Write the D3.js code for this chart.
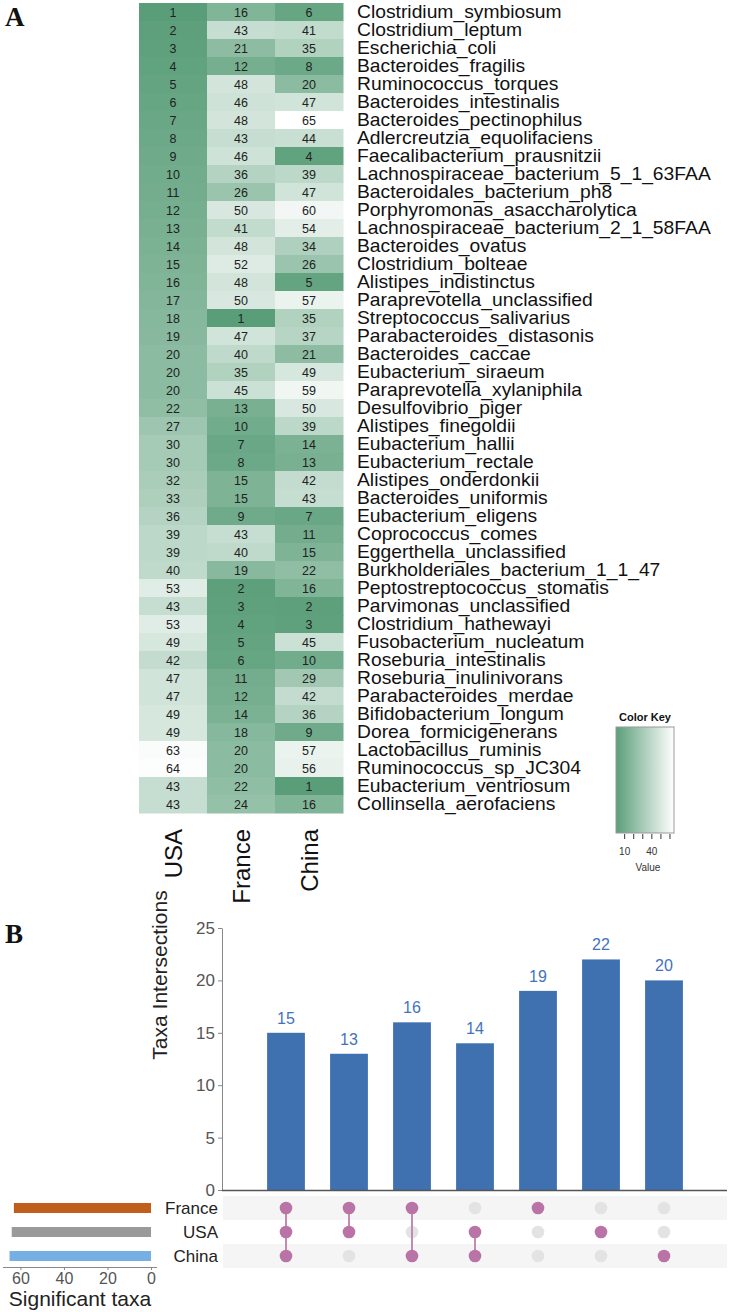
<!DOCTYPE html>
<html><head><meta charset="utf-8">
<script src="https://cdn.jsdelivr.net/npm/d3@7"></script>
<style>
body{margin:0;background:#fff;}
svg{display:block;font-family:Arial,"Liberation Sans",sans-serif;}
</style></head>
<body>
<svg id="c" width="729" height="1312"></svg>
<script>
// ---------- DATA ----------
const taxa = ["Clostridium_symbiosum","Clostridium_leptum","Escherichia_coli","Bacteroides_fragilis","Ruminococcus_torques","Bacteroides_intestinalis","Bacteroides_pectinophilus","Adlercreutzia_equolifaciens","Faecalibacterium_prausnitzii","Lachnospiraceae_bacterium_5_1_63FAA","Bacteroidales_bacterium_ph8","Porphyromonas_asaccharolytica","Lachnospiraceae_bacterium_2_1_58FAA","Bacteroides_ovatus","Clostridium_bolteae","Alistipes_indistinctus","Paraprevotella_unclassified","Streptococcus_salivarius","Parabacteroides_distasonis","Bacteroides_caccae","Eubacterium_siraeum","Paraprevotella_xylaniphila","Desulfovibrio_piger","Alistipes_finegoldii","Eubacterium_hallii","Eubacterium_rectale","Alistipes_onderdonkii","Bacteroides_uniformis","Eubacterium_eligens","Coprococcus_comes","Eggerthella_unclassified","Burkholderiales_bacterium_1_1_47","Peptostreptococcus_stomatis","Parvimonas_unclassified","Clostridium_hathewayi","Fusobacterium_nucleatum","Roseburia_intestinalis","Roseburia_inulinivorans","Parabacteroides_merdae","Bifidobacterium_longum","Dorea_formicigenerans","Lactobacillus_ruminis","Ruminococcus_sp_JC304","Eubacterium_ventriosum","Collinsella_aerofaciens"];
const countries = ["USA","France","China"];
const usaRank = [1,2,3,4,5,6,7,8,9,10,11,12,13,14,15,16,17,18,19,20,20,20,22,27,30,30,32,33,36,39,39,40,53,43,53,49,42,47,47,49,49,63,64,43,43];
const franceRank = [16,43,21,12,48,46,48,43,46,36,26,50,41,48,52,48,50,1,47,40,35,45,13,10,7,8,15,15,9,43,40,19,2,3,4,5,6,11,12,14,18,20,20,22,24];
const chinaRank = [6,41,35,8,20,47,65,44,4,39,47,60,54,34,26,5,57,35,37,21,49,59,50,39,14,13,42,43,7,11,15,22,16,2,3,45,10,29,42,36,9,57,56,1,16];
const keyTicks = [10,20,30,40,50,60];
const keyTickLabels = [10,40];

const setNames = ["France","USA","China"];
const setSizes = [63,64,65];
const setColors = ["#c05f1b","#9a9a9a","#74b0e4"];
const interMembers = [["France","USA","China"],["France","USA"],["France","China"],["USA","China"],["France"],["USA"],["China"]];
const interCounts = [15,13,16,14,19,22,20];
const yTicks = [0,5,10,15,20,25];
const sizeTicks = [0,20,40,60];

const svg = d3.select("#c");

// ---------- PANEL A ----------
svg.append("text").attr("x",5).attr("y",26).text("A")
  .attr("font-family","'Liberation Serif','DejaVu Serif',serif").attr("font-weight","bold").attr("font-size",27).attr("fill","#111");

const rankCols = [usaRank, franceRank, chinaRank];
const cells = [];
taxa.forEach((t,i)=>countries.forEach((c,j)=>cells.push({t,c,v:rankCols[j][i]})));

const hx = d3.scaleBand().domain(countries).range([139,343]);
const hy = d3.scaleBand().domain(taxa).range([3,813]);
const color = d3.scaleLinear().domain([1,65]).range(["#5a9e79","#ffffff"]).interpolate(d3.interpolateRgb);

const hm = svg.append("g");
hm.selectAll("rect").data(cells).join("rect")
  .attr("x",d=>hx(d.c)).attr("y",d=>hy(d.t))
  .attr("width",hx.bandwidth()+0.5).attr("height",hy.bandwidth()+0.5)
  .attr("fill",d=>color(d.v));
hm.selectAll("text.v").data(cells).join("text").attr("class","v")
  .attr("x",d=>hx(d.c)+hx.bandwidth()/2).attr("y",d=>hy(d.t)+hy.bandwidth()/2)
  .attr("dy","0.36em").attr("text-anchor","middle").attr("font-size",12.5).attr("fill","#222")
  .text(d=>d.v);
const lab = hm.append("g");
lab.selectAll("text.t").data(taxa).join("text").attr("class","t")
  .attr("x",0).attr("y",d=>hy(d)+hy.bandwidth()/2).attr("dy","0.36em")
  .attr("font-size",17.5).attr("fill","#111").text(d=>d);
// stretch labels horizontally to reference width of the longest label
let maxW = 0; lab.selectAll("text.t").each(function(){maxW=Math.max(maxW,this.getComputedTextLength());});
const sxl = maxW>0 ? 354/maxW : 1;
lab.attr("transform",`translate(357,0) scale(${sxl},1)`);

hm.selectAll("text.c").data(countries).join("text").attr("class","c")
  .attr("transform",d=>`translate(${hx(d)+hx.bandwidth()/2+8.5},829) rotate(-90)`)
  .attr("text-anchor","end").attr("font-size",24).attr("fill","#111").text(d=>d);

// Color key
const key = svg.append("g");
const kx = d3.scaleLinear().domain([1,65]).range([616,674]);
const grad = svg.append("defs").append("linearGradient").attr("id","kg");
d3.range(0,1.0001,0.1).forEach(o=>grad.append("stop").attr("offset",o).attr("stop-color",color(1+64*o)));
key.append("text").attr("x",645).attr("y",721).attr("text-anchor","middle").attr("font-size",11).attr("font-weight","bold").attr("fill","#111").text("Color Key");
key.append("rect").attr("x",616).attr("y",727).attr("width",58).attr("height",106).attr("fill","url(#kg)").attr("stroke","#999").attr("stroke-width",1);
const kAxis = d3.axisBottom(kx).tickValues(keyTicks).tickSize(5).tickFormat(d=>keyTickLabels.includes(d)?d:"");
const kg = key.append("g").attr("transform","translate(0,834)").call(kAxis);
kg.select(".domain").remove();
kg.selectAll("line").attr("stroke","#333");
kg.selectAll("text").attr("font-size",10).attr("fill","#333").attr("dy","1.3em").attr("font-family","Arial,'Liberation Sans',sans-serif");
key.append("text").attr("x",648).attr("y",871).attr("text-anchor","middle").attr("font-size",10).attr("fill","#333").text("Value");

// ---------- PANEL B ----------
svg.append("text").attr("x",5).attr("y",943).text("B")
  .attr("font-family","'Liberation Serif','DejaVu Serif',serif").attr("font-weight","bold").attr("font-size",27).attr("fill","#111");

const bx = d3.scaleBand().domain(d3.range(interCounts.length)).range([254.5,695.5]).paddingInner(0.4).paddingOuter(0.2);
const by = d3.scaleLinear().domain([0,25]).range([1190,928]);

const bars = svg.append("g");
bars.selectAll("rect").data(interCounts).join("rect")
  .attr("x",(d,i)=>bx(i)).attr("width",bx.bandwidth())
  .attr("y",d=>by(d)).attr("height",d=>by(0)-by(d)).attr("fill","#3f70b0");
bars.selectAll("text").data(interCounts).join("text")
  .attr("x",(d,i)=>bx(i)+bx.bandwidth()/2).attr("y",d=>by(d)-9)
  .attr("text-anchor","middle").attr("font-size",16).attr("fill","#4273bb").text(d=>d);

const yAx = svg.append("g").attr("transform","translate(222,0)")
  .call(d3.axisLeft(by).tickValues(yTicks).tickSize(4).tickSizeOuter(0));
yAx.select(".domain").attr("stroke","#888");
yAx.selectAll(".tick line").attr("stroke","#888");
yAx.selectAll("text").attr("font-size",17).attr("fill","#555").attr("font-family","Arial,'Liberation Sans',sans-serif");
svg.append("line").attr("x1",222).attr("x2",727).attr("y1",1190.5).attr("y2",1190.5).attr("stroke","#555").attr("stroke-width",1.5);
svg.append("text").attr("transform","translate(167,975) rotate(-90)").attr("text-anchor","middle")
  .attr("font-size",21).attr("fill","#222").text("Taxa Intersections");

// Matrix
const my = d3.scaleBand().domain(setNames).range([1196,1268]);
const mat = svg.append("g");
mat.selectAll("rect.bg").data(setNames).join("rect").attr("class","bg")
  .attr("x",223).attr("width",504).attr("y",d=>my(d)).attr("height",my.bandwidth())
  .attr("fill",(d,i)=>i%2===0?"#f5f5f5":"#ffffff");
mat.selectAll("text.sn").data(setNames).join("text").attr("class","sn")
  .attr("x",218).attr("y",d=>my(d)+my.bandwidth()/2).attr("dy","0.36em").attr("text-anchor","end")
  .attr("font-size",17).attr("fill","#222").text(d=>d);
const dots = [];
interMembers.forEach((m,i)=>setNames.forEach(s=>dots.push({i,s,on:m.includes(s)})));
mat.selectAll("circle").data(dots).join("circle")
  .attr("cx",d=>bx(d.i)+bx.bandwidth()/2).attr("cy",d=>my(d.s)+my.bandwidth()/2).attr("r",6.3)
  .attr("fill",d=>d.on?"#b973a6":"#e3e3e3");
mat.selectAll("line.cn").data(interMembers.map((m,i)=>({i,m})).filter(d=>d.m.length>1)).join("line").attr("class","cn")
  .attr("x1",d=>bx(d.i)+bx.bandwidth()/2).attr("x2",d=>bx(d.i)+bx.bandwidth()/2)
  .attr("y1",d=>d3.min(d.m,s=>my(s)+my.bandwidth()/2)).attr("y2",d=>d3.max(d.m,s=>my(s)+my.bandwidth()/2))
  .attr("stroke","#c48ab4").attr("stroke-width",2);
mat.selectAll("circle").filter(d=>d.on).raise();

// Set size bars
const sx = d3.scaleLinear().domain([0,68]).range([151,3]);
const sz = svg.append("g");
sz.selectAll("rect").data(setNames).join("rect")
  .attr("x",(d,i)=>sx(setSizes[i])).attr("width",(d,i)=>sx(0)-sx(setSizes[i]))
  .attr("y",d=>my(d)+my.bandwidth()/2-5).attr("height",10)
  .attr("fill",(d,i)=>setColors[i]);
const sAx = svg.append("g").attr("transform","translate(0,1267)")
  .call(d3.axisBottom(sx).tickValues(sizeTicks).tickSize(3).tickSizeOuter(0));
sAx.select(".domain").attr("stroke","#888").attr("d","M3,0.5H157");
sAx.selectAll(".tick line").attr("stroke","#888");
sAx.selectAll("text").attr("font-size",16).attr("fill","#555").attr("y",6).attr("dy","0.71em").attr("font-family","Arial,'Liberation Sans',sans-serif");
svg.append("text").attr("x",80).attr("y",1306).attr("text-anchor","middle").attr("font-size",21).attr("fill","#222").text("Significant taxa");
</script>
</body></html>
